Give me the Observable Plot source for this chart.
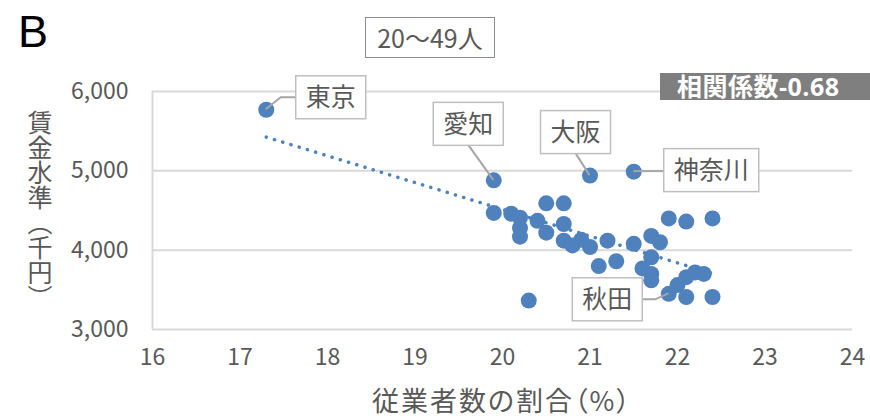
<!DOCTYPE html>
<html><head><meta charset="utf-8">
<script src="https://cdn.jsdelivr.net/npm/d3@7"></script>
<script src="https://cdn.jsdelivr.net/npm/@observablehq/plot@0.6"></script>
<style>
html,body{margin:0;padding:0;background:#fff;overflow:hidden;}
#wrap{position:relative;width:870px;height:420px;overflow:hidden;font-family:"Noto Sans CJK JP","Noto Sans",sans-serif;color:#595959;}
#chart{position:absolute;left:0;top:0;width:870px;height:420px;}
#panel{position:absolute;left:18px;top:9px;font-family:"Liberation Sans",sans-serif;font-size:45px;color:#000;line-height:1;}
#title{position:absolute;left:365px;top:17px;width:128px;height:39px;border:1.5px solid #8c8c8c;background:#fff;font-size:25px;line-height:39px;text-align:center;}
#ylab{position:absolute;left:27px;top:110px;writing-mode:vertical-rl;font-size:25px;line-height:26px;}
#xlab{position:absolute;left:502px;transform:translateX(-50%);top:385px;font-size:27px;line-height:30px;letter-spacing:2px;font-feature-settings:"palt";white-space:nowrap;}
</style></head><body>
<div id="wrap">
  <div id="chart"></div>
  <div id="panel">B</div>
  <div id="title">20〜49人</div>
  <div id="ylab">賃金水準（千円）</div>
  <div id="xlab">従業者数の割合（%）</div>
</div>
<script>
// data: share of employees (%) and wage level (thousand yen), per prefecture
const names = ["東京","愛知","大阪","神奈川","秋田"];
const shareX = [17.3,19.9,21.0,21.5,21.9,
  19.9,20.1,20.2,20.4,20.5,20.7,20.7,20.2,20.2,20.5,20.7,20.8,20.9,21.0,21.2,21.5,
  21.1,21.3,21.7,21.8,21.9,22.1,22.4,21.7,21.6,21.7,21.7,22.1,22.4,22.0,22.1,22.2,22.3,20.3];
const wageY = [5770,4880,4940,4990,3450,
  4470,4460,4410,4370,4590,4590,4330,4280,4170,4220,4120,4060,4130,4040,4120,4080,
  3800,3860,4180,4100,4400,4360,4400,3910,3770,3700,3620,3410,3410,3560,3660,3720,3700,3365];
const xTicks = [16,17,18,19,20,21,22,23,24];
const yTicks = [3000,4000,5000,6000];
const corrText = "相関係数-0.68";

const points = shareX.map((x,i)=>({x, y: wageY[i], name: names[i] || null}));

// annotation layout (pixel offsets from each labelled point)
const labelLayout = {
  "東京":   {dx:65,  dy:-12, leader:[[0,0],[15,-12],[30,-12]]},
  "愛知":   {dx:-25, dy:-56, leader:[[0,0],[-25,-35]]},
  "大阪":   {dx:-14, dy:-43, leader:[[0,0],[-14,-22]]},
  "神奈川": {dx:78,  dy:-1,  leader:[[0,0],[30,0]]},
  "秋田":   {dx:-61, dy:6,   leader:[[0,0],[-13,6],[-26,6]]}
};

const blue = "#4f81bd";

function labels(index, scales) {
  const g = d3.create("svg:g");
  const sx = scales.x, sy = scales.y;
  points.filter(d=>d.name).forEach(d=>{
    const px = sx(d.x), py = sy(d.y);
    const L = labelLayout[d.name];
    g.append("path")
      .attr("d", d3.line()(L.leader.map(([a,b])=>[px+a, py+b])))
      .attr("fill","none").attr("stroke","#a6a6a6").attr("stroke-width",2);
    const w = d.name.length*25 + 20, h = 43;
    const cx = px + L.dx, cy = py + L.dy;
    g.append("rect").attr("x",cx-w/2).attr("y",cy-h/2).attr("width",w).attr("height",h)
      .attr("fill","#fff").attr("stroke","#bfbfbf").attr("stroke-width",1.5);
    g.append("text").attr("x",cx).attr("y",cy).attr("dy","0.36em")
      .attr("text-anchor","middle").attr("fill","#595959")
      .style("font-family",'"Noto Sans CJK JP",sans-serif').style("font-size","25px")
      .text(d.name);
  });
  // correlation badge (top right, runs off the right edge)
  g.append("rect").attr("x",660).attr("y",73).attr("width",230).attr("height",27).attr("fill","#7f7f7f");
  g.append("text").attr("x",677).attr("y",86.5).attr("dy","0.36em").attr("fill","#fff")
    .attr("text-anchor","start")
    .style("font-family",'"Open Sans","Noto Sans CJK JP",sans-serif').style("font-size","25px").style("font-weight","bold")
    .style("letter-spacing","0.5px")
    .text(corrText);
  return g.node();
}

const plot = Plot.plot({
  width: 870, height: 420,
  marginLeft: 152, marginRight: 18, marginTop: 91, marginBottom: 91,
  style: {fontFamily: '"Noto Sans CJK JP","Noto Sans",sans-serif', fontSize: "23px", color: "#595959", background: "transparent", maxWidth: "none"},
  x: {domain: [16,24], ticks: xTicks, tickSize: 0, tickPadding: 19, tickFormat: d=>String(d), label: null},
  y: {domain: [3000,6000], ticks: yTicks, tickSize: 0, tickPadding: 24, tickFormat: d3.format(","), label: null},
  marks: [
    Plot.ruleY(yTicks, {stroke: "#d9d9d9", strokeWidth: 2}),
    Plot.ruleX([16], {stroke: "#d9d9d9", strokeWidth: 2}),
    Plot.linearRegressionY(points, {x: "x", y: "y", ci: 0, stroke: blue, strokeWidth: 3.5, strokeDasharray: "0.1 8.5", strokeLinecap: "round"}),
    Plot.dot(points, {x: "x", y: "y", r: 8, fill: blue, stroke: "none"}),
    labels
  ]
});
document.getElementById("chart").appendChild(plot);
</script>
</body></html>
